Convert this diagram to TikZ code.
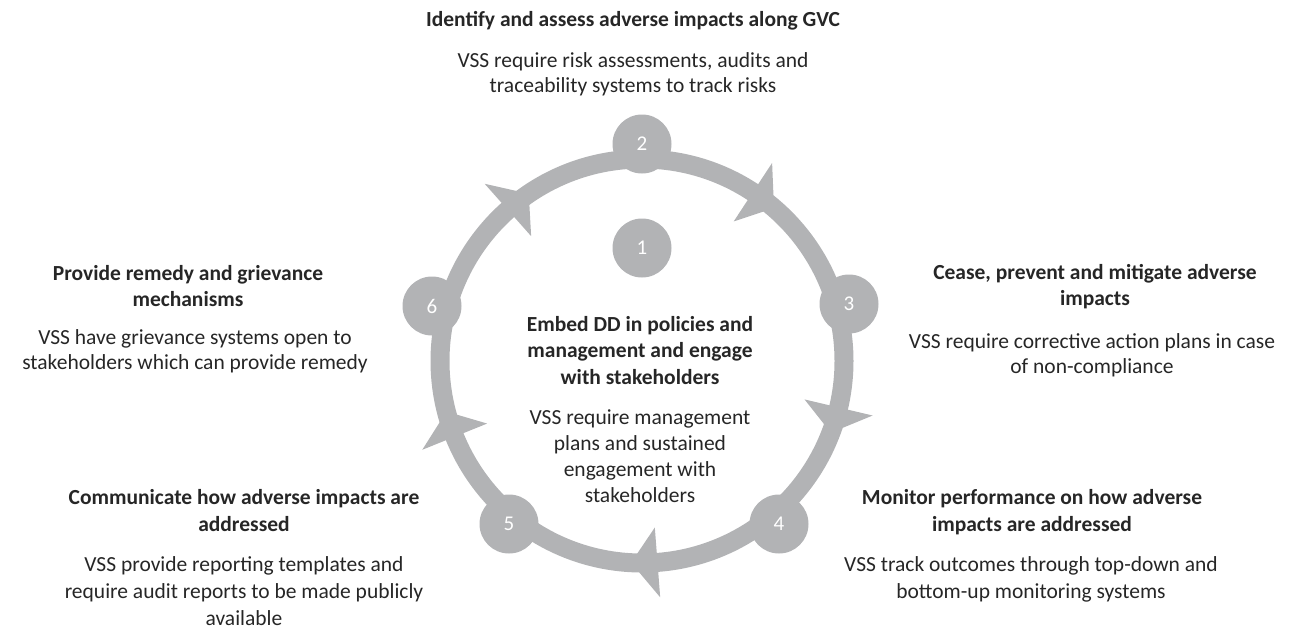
\documentclass[tikz,border=0pt]{standalone}
\usepackage{fontspec}
\setmainfont{Carlito}
\definecolor{ring}{HTML}{B2B3B5}
\definecolor{txt}{HTML}{262626}
\begin{document}
\begin{tikzpicture}[x=1pt,y=1pt,
  ringline/.style={draw=ring, line width=19pt},
  numnode/.style={circle, fill=ring, minimum size=59pt, inner sep=0pt, text=white, font=\fontsize{21}{24}\selectfont},
  ttl/.style={anchor=base, align=center, inner sep=0pt, text=txt, font=\bfseries\fontsize{21.5}{26.5}\selectfont},
  bdy/.style={anchor=base, align=center, inner sep=0pt, text=txt, font=\fontsize{21.5}{25}\selectfont},
  bdywide/.style={bdy, font=\fontsize{21.5}{27}\selectfont},
  chev/.style={fill=ring}]
\useasboundingbox (0,0) rectangle (1293,-629);
\coordinate (c) at (642,-361);
\draw[ringline] (c) circle[radius=202pt];
\foreach \m in {52.7,-17.3,-89.6,-162,127.6}{
  \fill[chev] ([shift={(c)}]\m-3.5:202pt) -- ([shift={(c)}]\m+4:237pt) -- ([shift={(c)}]\m+4:167pt) -- cycle;
}
\node[numnode] (n1) at (642,-248) {1};
\node[numnode] (n2) at (642,-144) {2};
\node[numnode] (n3) at (849,-304) {3};
\node[numnode] (n4) at (779,-524) {4};
\node[numnode] (n5) at (509,-524) {5};
\node[numnode] (n6) at (432,-306) {6};

% anchor=base of a multi-line node is the baseline of its last line
\node[ttl] (t2) at (633,-26) {Identify and assess adverse impacts along GVC};
\node[bdy] (b2) at (633,-92) {VSS require risk assessments, audits and\\traceability systems to track risks};
\node[ttl] (t6) at (188,-306.5) {Provide remedy and grievance\\mechanisms};
\node[bdy] (b6) at (195,-369) {VSS have grievance systems open to\\stakeholders which can provide remedy};
\node[ttl] (t3) at (1095,-305.5) {Cease, prevent and mitigate adverse\\impacts};
\node[bdy] (b3) at (1092,-373) {VSS require corrective action plans in case\\of non-compliance};
\node[ttl] (t5) at (244,-531) {Communicate how adverse impacts are\\addressed};
\node[bdywide] (b5) at (244,-625) {VSS provide reporting templates and\\require audit reports to be made publicly\\available};
\node[ttl] (t4) at (1032,-531) {Monitor performance on how adverse\\impacts are addressed};
\node[bdywide] (b4) at (1031,-598) {VSS track outcomes through top-down and\\bottom-up monitoring systems};
\node[ttl] (t1) at (640,-384) {Embed DD in policies and\\management and engage\\with stakeholders};
\node[bdy, font=\fontsize{21.5}{25.7}\selectfont] (b1) at (640,-502) {VSS require management\\plans and sustained\\engagement with\\stakeholders};
\end{tikzpicture}
\end{document}
